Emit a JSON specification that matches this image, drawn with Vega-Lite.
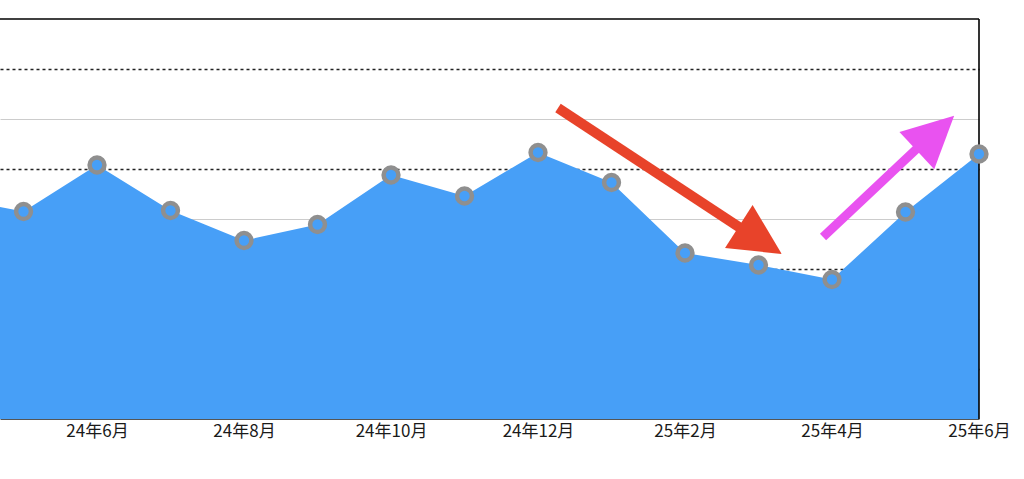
{
  "$schema": "https://vega.github.io/schema/vega-lite/v6.json",
  "width": 979,
  "height": 400,
  "autosize": {"type": "none"},
  "padding": {"left": 0, "top": 19, "right": 45, "bottom": 60},
  "background": "white",
  "config": {"view": {"stroke": null}, "font": "Noto Sans CJK JP"},
  "datasets": {
    "series": [
      {"i": 0, "month": "24年4月", "value": 4.43},
      {"i": 1, "month": "24年5月", "value": 4.15},
      {"i": 2, "month": "24年6月", "value": 5.08},
      {"i": 3, "month": "24年7月", "value": 4.17},
      {"i": 4, "month": "24年8月", "value": 3.57},
      {"i": 5, "month": "24年9月", "value": 3.89},
      {"i": 6, "month": "24年10月", "value": 4.88},
      {"i": 7, "month": "24年11月", "value": 4.46},
      {"i": 8, "month": "24年12月", "value": 5.33},
      {"i": 9, "month": "25年1月", "value": 4.73},
      {"i": 10, "month": "25年2月", "value": 3.32},
      {"i": 11, "month": "25年3月", "value": 3.08},
      {"i": 12, "month": "25年4月", "value": 2.79},
      {"i": 13, "month": "25年5月", "value": 4.14},
      {"i": 14, "month": "25年6月", "value": 5.30}
    ],
    "frame": [{"top": 8, "right": 14}],
    "downShaft": [{"x": 8.272, "y": 6.22, "x2": 10.816, "y2": 3.76}],
    "downHead": [{"x": 11.024, "y": 3.575}],
    "upShaft": [{"x": 11.878, "y": 3.64, "x2": 13.265, "y2": 5.56}],
    "upHead": [{"x": 13.408, "y": 5.715}]
  },
  "layer": [
    {
      "data": {"name": "series"},
      "mark": {"type": "area", "color": "#479ff7", "opacity": 1, "clip": true},
      "encoding": {
        "x": {
          "field": "i",
          "type": "quantitative",
          "scale": {"domain": [0.68, 14], "nice": false, "zero": false},
          "axis": {
            "title": null,
            "values": [2, 4, 6, 8, 10, 12, 14],
            "grid": false,
            "ticks": false,
            "domainColor": "#555555",
            "domainWidth": 1,
            "labelFontSize": 17,
            "labelColor": "#1a1a1a",
            "labelPadding": 4,
            "labelFlush": false,
            "labelOverlap": false,
            "labelExpr": "(datum.value <= 8 ? '24' : '25') + '年' + ((datum.value + 3) % 12 + 1) + '月'"
          }
        },
        "y": {
          "field": "value",
          "type": "quantitative",
          "scale": {"domain": [0, 8], "nice": false},
          "axis": {
            "title": null,
            "labels": false,
            "ticks": false,
            "domain": false,
            "values": [1, 2, 3, 4, 5, 6, 7],
            "grid": true,
            "gridColor": {"condition": {"test": "datum.value % 2 === 1", "value": "#222222"}, "value": "#cccccc"},
            "gridDash": {"condition": {"test": "datum.value % 2 === 1", "value": [3, 3]}, "value": []},
            "gridWidth": {"condition": {"test": "datum.value % 2 === 1", "value": 1.5}, "value": 1}
          }
        }
      }
    },
    {
      "data": {"name": "frame"},
      "mark": {"type": "rule", "color": "#000000", "strokeWidth": 1.6},
      "encoding": {"y": {"field": "top", "type": "quantitative"}}
    },
    {
      "data": {"name": "frame"},
      "mark": {"type": "rule", "color": "#000000", "strokeWidth": 1.6},
      "encoding": {"x": {"field": "right", "type": "quantitative"}}
    },
    {
      "data": {"name": "series"},
      "transform": [{"filter": "datum.i >= 1"}],
      "mark": {"type": "point", "filled": true, "fill": "#479ff7", "stroke": "#8f8f8f", "strokeWidth": 4.5, "size": 220, "opacity": 1, "clip": false},
      "encoding": {
        "x": {"field": "i", "type": "quantitative"},
        "y": {"field": "value", "type": "quantitative"}
      }
    },
    {
      "data": {"name": "downShaft"},
      "mark": {"type": "rule", "color": "#e8432a", "strokeWidth": 10, "strokeCap": "butt"},
      "encoding": {
        "x": {"field": "x", "type": "quantitative"},
        "y": {"field": "y", "type": "quantitative"},
        "x2": {"field": "x2"},
        "y2": {"field": "y2"}
      }
    },
    {
      "data": {"name": "downHead"},
      "mark": {"type": "point", "shape": "M0,-1L1,1L-1,1Z", "size": 2601, "angle": 122.7, "filled": true, "color": "#e8432a", "opacity": 1, "strokeWidth": 0},
      "encoding": {
        "x": {"field": "x", "type": "quantitative"},
        "y": {"field": "y", "type": "quantitative"}
      }
    },
    {
      "data": {"name": "upShaft"},
      "mark": {"type": "rule", "color": "#e952f0", "strokeWidth": 9, "strokeCap": "butt"},
      "encoding": {
        "x": {"field": "x", "type": "quantitative"},
        "y": {"field": "y", "type": "quantitative"},
        "x2": {"field": "x2"},
        "y2": {"field": "y2"}
      }
    },
    {
      "data": {"name": "upHead"},
      "mark": {"type": "point", "shape": "M0,-1L1,1L-1,1Z", "size": 2601, "angle": 47, "filled": true, "color": "#e952f0", "opacity": 1, "strokeWidth": 0},
      "encoding": {
        "x": {"field": "x", "type": "quantitative"},
        "y": {"field": "y", "type": "quantitative"}
      }
    }
  ]
}
